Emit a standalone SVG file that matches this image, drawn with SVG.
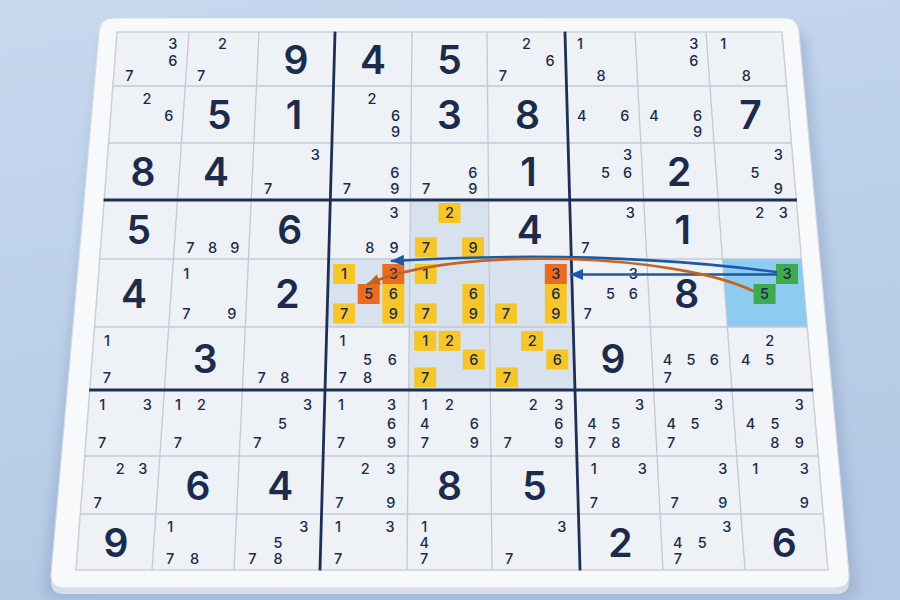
<svg xmlns="http://www.w3.org/2000/svg" width="900" height="600" viewBox="0 0 900 600">
<defs>
<linearGradient id="bg" x1="0" y1="0" x2="0.3" y2="1">
<stop offset="0" stop-color="#c7d9ef"/>
<stop offset="1" stop-color="#b4c9e5"/>
</linearGradient>
<filter id="sh" x="-10%" y="-10%" width="120%" height="120%">
<feGaussianBlur stdDeviation="6"/>
</filter>
<marker id="ab" markerUnits="userSpaceOnUse" markerWidth="13" markerHeight="11" refX="12" refY="5.5" orient="auto">
<path d="M0,0 L13,5.5 L0,11 Z" fill="#1d59a6"/>
</marker>
<marker id="ao" markerUnits="userSpaceOnUse" markerWidth="13" markerHeight="11" refX="12" refY="5.5" orient="auto">
<path d="M0,0 L13,5.5 L0,11 Z" fill="#c2661f"/>
</marker>
</defs>
<style>
text{font-family:Inter,'Open Sans','DejaVu Sans',sans-serif;text-anchor:middle;fill:#1c2b4b}
.c{font-size:14.5px;font-weight:500}
.g{font-size:39px;font-weight:600}
.thin{stroke:#c3c9d3;stroke-width:1.3;fill:none}
.thick{stroke:#1d2f55;stroke-width:2.8;fill:none;stroke-linecap:square}
.y{fill:#f6c628}
.o{fill:#ec6b1e}
.gr{fill:#3daa4c}
</style>
<rect width="900" height="600" fill="url(#bg)"/>
<path d="M 118 30 H 790 Q 806 30 807 46 L 857 584 Q 858 600 842 600 H 58 Q 42 600 43 584 L 101 46 Q 102 30 118 30 Z" fill="#8fa6c6" opacity="0.55" filter="url(#sh)"/>
<path d="M 114 24 H 784 Q 798 24 799 38 L 849 580 Q 850 594 836 594 H 64 Q 50 594 51 580 L 99 38 Q 100 24 114 24 Z" fill="#d9dee6"/>
<path d="M 114 18 H 784 Q 798 18 799 32 L 849 574 Q 850 588 836 588 H 64 Q 50 588 51 574 L 99 32 Q 100 18 114 18 Z" fill="#f8f9fb" stroke="#d6dbe3" stroke-width="1.2"/>
<polygon points="117,32 782,32 828,570 76,570" fill="#eef1f5" stroke="#cbd0d8" stroke-width="1.5"/>
<g id="shading">
<polygon points="410.4,200 488.6,200 489.1,259 571.3,259 575,390 408.7,390 409.3,327 326.8,327 328.7,259 409.9,259" fill="#d7e2ee"/>
<polygon points="722.5,259 801.4,259 807.2,327 727.4,327" fill="#8dcbf1"/>
</g>
<g id="grid">
<line class="thin" x1="189" y1="32" x2="152" y2="570"/>
<line class="thin" x1="259" y1="32" x2="234" y2="570"/>
<line class="thin" x1="412" y1="32" x2="407" y2="570"/>
<line class="thin" x1="487" y1="32" x2="492" y2="570"/>
<line class="thin" x1="635" y1="32" x2="663" y2="570"/>
<line class="thin" x1="706" y1="32" x2="745" y2="570"/>
<line class="thin" x1="112.9" y1="86" x2="786.6" y2="86"/>
<line class="thin" x1="108.5" y1="143" x2="791.5" y2="143"/>
<line class="thin" x1="99.7" y1="259" x2="801.4" y2="259"/>
<line class="thin" x1="94.5" y1="327" x2="807.2" y2="327"/>
<line class="thin" x1="84.7" y1="456" x2="818.3" y2="456"/>
<line class="thin" x1="80.3" y1="514" x2="823.2" y2="514"/>
<line class="thick" x1="335" y1="33" x2="320" y2="569"/>
<line class="thick" x1="565" y1="33" x2="580" y2="569"/>
<line class="thick" x1="105" y1="200" x2="795.5" y2="200"/>
<line class="thick" x1="90.5" y1="390" x2="811.8" y2="390"/>
</g>
<g id="r1c1"><text class="c" x="172.7" y="49.3">3</text><text class="c" x="172.7" y="66.3">6</text><text class="c" x="129.3" y="81.3">7</text></g>
<g id="r1c2"><text class="c" x="222.4" y="49.3">2</text><text class="c" x="201.2" y="81.3">7</text></g>
<g id="r1c3"><text class="g" x="296" y="73.5">9</text></g>
<g id="r1c4"><text class="g" x="373" y="73.5">4</text></g>
<g id="r1c5"><text class="g" x="449.5" y="73.5">5</text></g>
<g id="r1c6"><text class="c" x="526.5" y="49.3">2</text><text class="c" x="550.1" y="66.3">6</text><text class="c" x="503" y="81.3">7</text></g>
<g id="r1c7"><text class="c" x="579.9" y="49.3">1</text><text class="c" x="601.1" y="81.3">8</text></g>
<g id="r1c8"><text class="c" x="693.7" y="49.3">3</text><text class="c" x="693.7" y="66.3">6</text></g>
<g id="r1c9"><text class="c" x="723.3" y="49.3">1</text><text class="c" x="746.2" y="81.3">8</text></g>
<g id="r2c1"><text class="c" x="147" y="103.8">2</text><text class="c" x="168.8" y="120.8">6</text></g>
<g id="r2c2"><text class="g" x="219.3" y="129">5</text></g>
<g id="r2c3"><text class="g" x="294" y="129">1</text></g>
<g id="r2c4"><text class="c" x="372" y="103.8">2</text><text class="c" x="395.6" y="120.8">6</text><text class="c" x="395.6" y="136.9">9</text></g>
<g id="r2c5"><text class="g" x="449.5" y="129">3</text></g>
<g id="r2c6"><text class="g" x="527.6" y="129">8</text></g>
<g id="r2c7"><text class="c" x="581.7" y="120.8">4</text><text class="c" x="624.9" y="120.8">6</text></g>
<g id="r2c8"><text class="c" x="653.9" y="120.8">4</text><text class="c" x="697.5" y="120.8">6</text><text class="c" x="697.5" y="136.9">9</text></g>
<g id="r2c9"><text class="g" x="750.6" y="129">7</text></g>
<g id="r3c1"><text class="g" x="142.9" y="186">8</text></g>
<g id="r3c2"><text class="g" x="216" y="186">4</text></g>
<g id="r3c3"><text class="c" x="315.4" y="159.5">3</text><text class="c" x="268.2" y="193.9">7</text></g>
<g id="r3c4"><text class="c" x="394.8" y="177.8">6</text><text class="c" x="347" y="193.9">7</text><text class="c" x="394.8" y="193.9">9</text></g>
<g id="r3c5"><text class="c" x="472.8" y="177.8">6</text><text class="c" x="426.2" y="193.9">7</text><text class="c" x="472.8" y="193.9">9</text></g>
<g id="r3c6"><text class="g" x="528.6" y="186">1</text></g>
<g id="r3c7"><text class="c" x="627.6" y="159.5">3</text><text class="c" x="605.6" y="177.8">5</text><text class="c" x="627.6" y="177.8">6</text></g>
<g id="r3c8"><text class="g" x="679.2" y="186">2</text></g>
<g id="r3c9"><text class="c" x="778.3" y="159.5">3</text><text class="c" x="755" y="177.8">5</text><text class="c" x="778.3" y="193.9">9</text></g>
<g id="r4c1"><text class="g" x="138.7" y="244">5</text></g>
<g id="r4c2"><text class="c" x="190.3" y="252.5">7</text><text class="c" x="212.6" y="252.5">8</text><text class="c" x="234.9" y="252.5">9</text></g>
<g id="r4c3"><text class="g" x="289.7" y="244">6</text></g>
<g id="r4c4"><text class="c" x="394.1" y="218.3">3</text><text class="c" x="369.9" y="252.5">8</text><text class="c" x="394.1" y="252.5">9</text></g>
<g id="r4c5"><rect class="y" x="438.5" y="203" width="22" height="20"/><rect class="y" x="414.9" y="237.2" width="22" height="20"/><rect class="y" x="462.1" y="237.2" width="22" height="20"/><text class="c" x="449.5" y="218.3">2</text><text class="c" x="425.9" y="252.5">7</text><text class="c" x="473.1" y="252.5">9</text></g>
<g id="r4c6"><text class="g" x="529.7" y="244">4</text></g>
<g id="r4c7"><text class="c" x="630.3" y="218.3">3</text><text class="c" x="585.5" y="252.5">7</text></g>
<g id="r4c8"><text class="g" x="682.8" y="244">1</text></g>
<g id="r4c9"><text class="c" x="759.6" y="218.3">2</text><text class="c" x="783.2" y="218.3">3</text></g>
<g id="r5c1"><text class="g" x="134.1" y="307.5">4</text></g>
<g id="r5c2"><text class="c" x="186.3" y="279.3">1</text><text class="c" x="186.3" y="318.7">7</text><text class="c" x="231.7" y="318.7">9</text></g>
<g id="r5c3"><text class="g" x="287.3" y="307.5">2</text></g>
<g id="r5c4"><rect class="y" x="333.1" y="264" width="22" height="20"/><rect class="o" x="382.3" y="264" width="22" height="20"/><rect class="o" x="357.7" y="284" width="22" height="20"/><rect class="y" x="382.3" y="284" width="22" height="20"/><rect class="y" x="333.1" y="303.4" width="22" height="20"/><rect class="y" x="382.3" y="303.4" width="22" height="20"/><text class="c" x="344.1" y="279.3">1</text><text class="c" x="393.3" y="279.3">3</text><text class="c" x="368.7" y="299.3">5</text><text class="c" x="393.3" y="299.3">6</text><text class="c" x="344.1" y="318.7">7</text><text class="c" x="393.3" y="318.7">9</text></g>
<g id="r5c5"><rect class="y" x="414.6" y="264" width="22" height="20"/><rect class="y" x="462.4" y="284" width="22" height="20"/><rect class="y" x="414.6" y="303.4" width="22" height="20"/><rect class="y" x="462.4" y="303.4" width="22" height="20"/><text class="c" x="425.6" y="279.3">1</text><text class="c" x="473.4" y="299.3">6</text><text class="c" x="425.6" y="318.7">7</text><text class="c" x="473.4" y="318.7">9</text></g>
<g id="r5c6"><rect class="o" x="544.8" y="264" width="22" height="20"/><rect class="y" x="544.8" y="284" width="22" height="20"/><rect class="y" x="495" y="303.4" width="22" height="20"/><rect class="y" x="544.8" y="303.4" width="22" height="20"/><text class="c" x="555.8" y="279.3">3</text><text class="c" x="555.8" y="299.3">6</text><text class="c" x="506" y="318.7">7</text><text class="c" x="555.8" y="318.7">9</text></g>
<g id="r5c7"><text class="c" x="633.4" y="279.3">3</text><text class="c" x="610.5" y="299.3">5</text><text class="c" x="633.4" y="299.3">6</text><text class="c" x="587.6" y="318.7">7</text></g>
<g id="r5c8"><text class="g" x="686.8" y="307.5">8</text></g>
<g id="r5c9"><rect class="gr" x="776" y="264" width="22" height="20"/><rect class="gr" x="753.6" y="284" width="22" height="20"/><text class="c" x="787" y="279.3">3</text><text class="c" x="764.6" y="299.3">5</text></g>
<g id="r6c1"><text class="c" x="107" y="346.2">1</text><text class="c" x="107" y="382.7">7</text></g>
<g id="r6c2"><text class="g" x="205.2" y="373">3</text></g>
<g id="r6c3"><text class="c" x="261.7" y="382.7">7</text><text class="c" x="284.9" y="382.7">8</text></g>
<g id="r6c4"><text class="c" x="342.6" y="346.2">1</text><text class="c" x="367.5" y="364.8">5</text><text class="c" x="392.4" y="364.8">6</text><text class="c" x="342.6" y="382.7">7</text><text class="c" x="367.5" y="382.7">8</text></g>
<g id="r6c5"><rect class="y" x="414.2" y="330.9" width="22" height="20"/><rect class="y" x="438.5" y="330.9" width="22" height="20"/><rect class="y" x="462.8" y="349.5" width="22" height="20"/><rect class="y" x="414.2" y="367.4" width="22" height="20"/><text class="c" x="425.2" y="346.2">1</text><text class="c" x="449.5" y="346.2">2</text><text class="c" x="473.8" y="364.8">6</text><text class="c" x="425.2" y="382.7">7</text></g>
<g id="r6c6"><rect class="y" x="521.1" y="330.9" width="22" height="20"/><rect class="y" x="546.3" y="349.5" width="22" height="20"/><rect class="y" x="495.9" y="367.4" width="22" height="20"/><text class="c" x="532.1" y="346.2">2</text><text class="c" x="557.3" y="364.8">6</text><text class="c" x="506.9" y="382.7">7</text></g>
<g id="r6c7"><text class="g" x="613.1" y="373">9</text></g>
<g id="r6c8"><text class="c" x="667.6" y="364.8">4</text><text class="c" x="690.9" y="364.8">5</text><text class="c" x="714.2" y="364.8">6</text><text class="c" x="667.6" y="382.7">7</text></g>
<g id="r6c9"><text class="c" x="769.8" y="346.2">2</text><text class="c" x="745.7" y="364.8">4</text><text class="c" x="769.8" y="364.8">5</text></g>
<g id="r7c1"><text class="c" x="102.2" y="409.8">1</text><text class="c" x="147.2" y="409.8">3</text><text class="c" x="102.2" y="448.1">7</text></g>
<g id="r7c2"><text class="c" x="177.9" y="409.8">1</text><text class="c" x="201.5" y="409.8">2</text><text class="c" x="177.9" y="448.1">7</text></g>
<g id="r7c3"><text class="c" x="307.5" y="409.8">3</text><text class="c" x="282.5" y="429.3">5</text><text class="c" x="257.5" y="448.1">7</text></g>
<g id="r7c4"><text class="c" x="341" y="409.8">1</text><text class="c" x="391.6" y="409.8">3</text><text class="c" x="391.6" y="429.3">6</text><text class="c" x="341" y="448.1">7</text><text class="c" x="391.6" y="448.1">9</text></g>
<g id="r7c5"><text class="c" x="424.8" y="409.8">1</text><text class="c" x="449.5" y="409.8">2</text><text class="c" x="424.8" y="429.3">4</text><text class="c" x="474.2" y="429.3">6</text><text class="c" x="424.8" y="448.1">7</text><text class="c" x="474.2" y="448.1">9</text></g>
<g id="r7c6"><text class="c" x="533.3" y="409.8">2</text><text class="c" x="558.9" y="409.8">3</text><text class="c" x="558.9" y="429.3">6</text><text class="c" x="507.7" y="448.1">7</text><text class="c" x="558.9" y="448.1">9</text></g>
<g id="r7c7"><text class="c" x="639.6" y="409.8">3</text><text class="c" x="591.9" y="429.3">4</text><text class="c" x="615.7" y="429.3">5</text><text class="c" x="591.9" y="448.1">7</text><text class="c" x="615.7" y="448.1">8</text></g>
<g id="r7c8"><text class="c" x="718.6" y="409.8">3</text><text class="c" x="671.2" y="429.3">4</text><text class="c" x="694.9" y="429.3">5</text><text class="c" x="671.2" y="448.1">7</text></g>
<g id="r7c9"><text class="c" x="799.2" y="409.8">3</text><text class="c" x="750.6" y="429.3">4</text><text class="c" x="774.9" y="429.3">5</text><text class="c" x="774.9" y="448.1">8</text><text class="c" x="799.2" y="448.1">9</text></g>
<g id="r8c1"><text class="c" x="120.2" y="474.1">2</text><text class="c" x="142.8" y="474.1">3</text><text class="c" x="97.6" y="507.7">7</text></g>
<g id="r8c2"><text class="g" x="198" y="499.5">6</text></g>
<g id="r8c3"><text class="g" x="280.2" y="499.5">4</text></g>
<g id="r8c4"><text class="c" x="365.1" y="474.1">2</text><text class="c" x="390.7" y="474.1">3</text><text class="c" x="339.5" y="507.7">7</text><text class="c" x="390.7" y="507.7">9</text></g>
<g id="r8c5"><text class="g" x="449.5" y="499.5">8</text></g>
<g id="r8c6"><text class="g" x="534.4" y="499.5">5</text></g>
<g id="r8c7"><text class="c" x="593.8" y="474.1">1</text><text class="c" x="642.4" y="474.1">3</text><text class="c" x="593.8" y="507.7">7</text></g>
<g id="r8c8"><text class="c" x="722.8" y="474.1">3</text><text class="c" x="674.6" y="507.7">7</text><text class="c" x="722.8" y="507.7">9</text></g>
<g id="r8c9"><text class="c" x="755.2" y="474.1">1</text><text class="c" x="804.4" y="474.1">3</text><text class="c" x="804.4" y="507.7">9</text></g>
<g id="r9c1"><text class="g" x="116" y="556.5">9</text></g>
<g id="r9c2"><text class="c" x="170.2" y="531.6">1</text><text class="c" x="170.2" y="564.1">7</text><text class="c" x="194.6" y="564.1">8</text></g>
<g id="r9c3"><text class="c" x="303.8" y="531.6">3</text><text class="c" x="278.1" y="548.3">5</text><text class="c" x="252.4" y="564.1">7</text><text class="c" x="278.1" y="564.1">8</text></g>
<g id="r9c4"><text class="c" x="338.1" y="531.6">1</text><text class="c" x="390" y="531.6">3</text><text class="c" x="338.1" y="564.1">7</text></g>
<g id="r9c5"><text class="c" x="424.2" y="531.6">1</text><text class="c" x="424.2" y="548.3">4</text><text class="c" x="424.2" y="564.1">7</text></g>
<g id="r9c6"><text class="c" x="561.8" y="531.6">3</text><text class="c" x="509.2" y="564.1">7</text></g>
<g id="r9c7"><text class="g" x="620.4" y="556.5">2</text></g>
<g id="r9c8"><text class="c" x="726.8" y="531.6">3</text><text class="c" x="677.8" y="548.3">4</text><text class="c" x="702.3" y="548.3">5</text><text class="c" x="677.8" y="564.1">7</text></g>
<g id="r9c9"><text class="g" x="784.3" y="556.5">6</text></g>
<g id="connectors" fill="none" stroke-width="2.6" stroke-linecap="round">
<path d="M 776 272 Q 600 249 392 261" stroke="#1d59a6" marker-end="url(#ab)"/>
<path d="M 776 274.5 L 571 274.5" stroke="#1d59a6" marker-end="url(#ab)"/>
<path d="M 753 291 C 680 255 460 244 368 284" stroke="#c2661f" marker-end="url(#ao)"/>
</g>
</svg>
